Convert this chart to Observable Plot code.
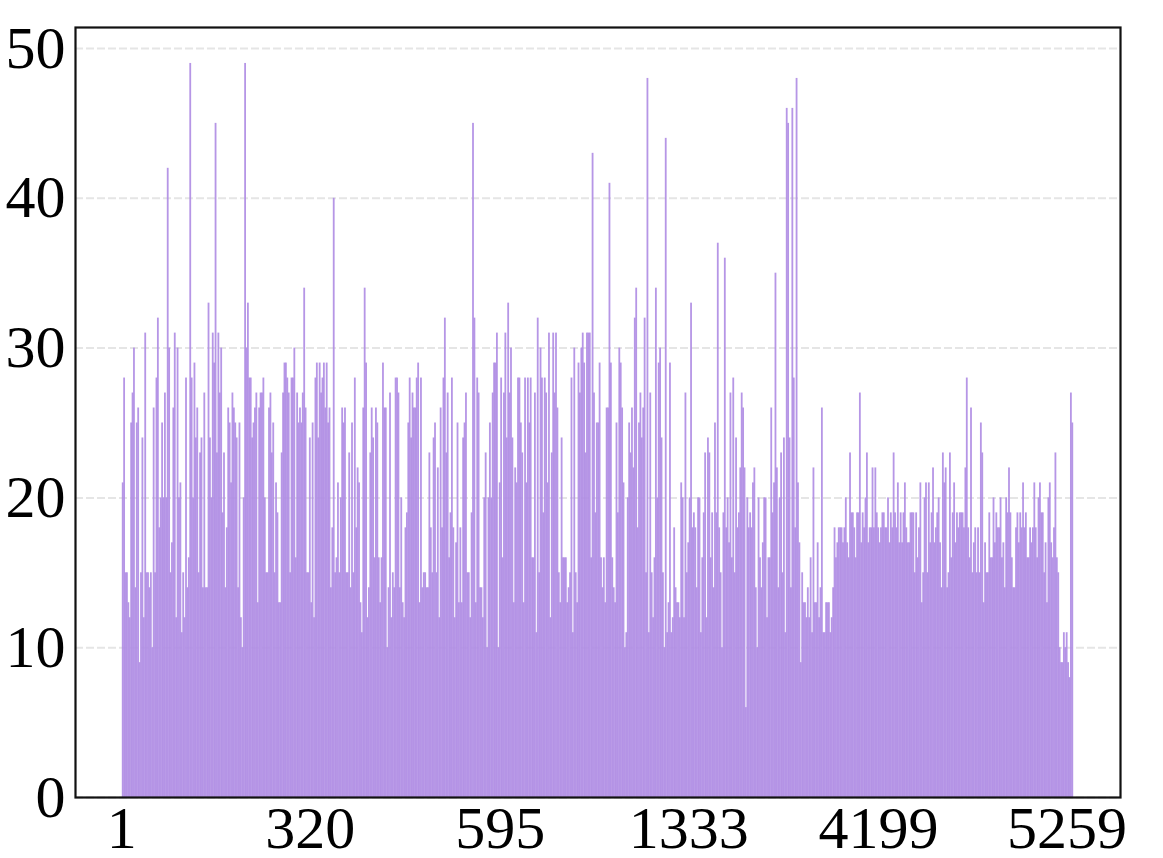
<!DOCTYPE html>
<html><head><meta charset="utf-8">
<script src="https://cdn.jsdelivr.net/npm/d3@7"></script>
<script src="https://cdn.jsdelivr.net/npm/@observablehq/plot@0.6"></script>
<style>html,body{margin:0;padding:0;background:#fff}svg{display:block}</style>
</head><body><div id="chart"></div>
<script>
const partA=[21,28,15,15,13,12,25,27,30,14,25,26,9,15,24,12,31,15,15,14,15,10,26,15,28,32,18,20,25,20,27,20,42,30,15,17,26,31,12,30,20,21,11,15,12,28,14,16,49,28,20,29,24,26,15,23,24,14,27,14,14,33,24,20,31,29,45,23,31,27,30,19,23,14,18,26,25,21,27,26,25,24,14,25,12,10,20,49,30,33,28,28,24,25,26,27,13,26,27,27,28,20,15,15,26,27,23,25,15,21,19,13,13,23,27,29,29,28,27,15,28,28,30,16,27,25,26,25,27,34,26,15,15,24,13,25,12,28,29,24,29,27,28,29,26,29,25,26,14,18,40,15,16,21,15,20,26,25,26,15,15,23,14,25,15,28,18,22,21,13,11,26,34,29,12,14];
const partB=[23,26,24,16,26,25,16,13,16,29,26,26,10,14,27,12,15,14,28,28,27,14,20,13,12,18,19,25,28,24,27,26,26,28,29,13,28,14,15,15,14,14,23,18,15,24,25,15,22,12,26,18,28,32,23,27,16,19,28,18,12,17,25,13,18,13,24,25,27,15,15,12,19,45,32,13,28,27,14,14,12,20,23,10,20,25,20,27,29,29,31,10,21,28,16,27,31,24,33,27,30,24,13,22,21,28,28,25,23,13,28,21,28,25,28,16,16,27,11,32,15,30,28,19,28,27,21,31,12,23,31,27,31,26,15,13,24,16,16,16,13,14,15,28,11,30,15,13,29,27,30,31,29,23,31,31,31,16,43,27,19,25,25,29,16,14,16,13,26,26,41,29];
const partC=[16,14,13,25,19,30,29,26,21,10,11,20,25,23,26,22,32,34,18,25,27,24,26,32,15,48,11,27,15,12,16,34,20,29,30,24,15,10,44,11,13,29,11,12,18,14,13,13,12,21,20,12,27,15,17,20,33,18,19,18,14,20,20,11,16,19,23,12,24,23,16,19,14,25,19,37,18,15,10,19,36,18,20,17,27,16,28,15,24,18,19,22,27,26,22,6,20,18,19,18,21,22,14,10,20,16,14,17,20,20,12,16,16,26,19,21,35,22,14,20,23,15,24,11,46,45,24,14,46,28,18,48,21,17,9,15,13,13,12,14,12,16,11,22,13,13,17,12,14,26,11,11,13,13,13,11,12,14,18,16,17,18,18,18,17,18,20,17,16];
const partD=[23,19,19,18,16,19,19,27,17,19,18,20,23,17,18,18,22,18,22,19,18,17,18,19,19,18,18,20,17,19,18,23,19,18,21,17,19,17,19,21,18,17,17,19,19,19,15,19,16,18,21,13,15,20,21,15,21,17,19,22,17,18,19,20,17,14,23,21,22,14,15,23,16,19,21,17,19,18,19,19,19,18,22,28,18,16,26,15,17,18,15,18,15,25,23,13,17,15,15,19,16,16,20,17,19,18,18,20,16,17,14,20,19,22,19,16,14,14,18,19,17,19,18,21,18,19,16,16,18,17,18,21,18,16,20,21,19,19,15,17,13,20,21,17,16,18,23,16,15,10,9,9,11,10,11,9,8,27,25];
const values=[...partA,...partB,...partC,...partD];
const index=d3.range(values.length);
const tickLabels=["1","320","595","1333","4199","5259"];
const tickIndex=tickLabels.map((_,i)=>Math.round(i*136*values.length/684));
const yTicks=[0,10,20,30,40,50];
const font="'Liberation Serif','Times New Roman',serif";
const chart=Plot.plot({
  width:1163,height:858,
  marginTop:27,marginBottom:61,marginLeft:75,marginRight:43,
  style:{fontFamily:font,background:"#fff",overflow:"visible"},
  x:{type:"band",domain:index,range:[122,1073],padding:0,round:false,label:null},
  y:{domain:[0,51.4],label:null},
  marks:[
    Plot.ruleY(yTicks,{stroke:"#e5e5e5",strokeWidth:2,strokeDasharray:"8,3"}),
    Plot.barY(index,{x:d=>d,y:i=>values[i],fill:"#b08de4",fillOpacity:0.92,insetLeft:-0.2,insetRight:-0.2}),
    Plot.axisX({ticks:tickIndex,tickSize:0,tickPadding:8,dx:-1.5,fontSize:60,fill:"#000",tickFormat:d=>tickLabels[tickIndex.indexOf(d)],label:null}),
    Plot.axisY({ticks:yTicks,tickSize:0,tickPadding:10,fontSize:60,fill:"#000",label:null}),
    Plot.frame({stroke:"#111",strokeWidth:2.2})
  ]
});
document.getElementById("chart").append(chart);
</script></body></html>
